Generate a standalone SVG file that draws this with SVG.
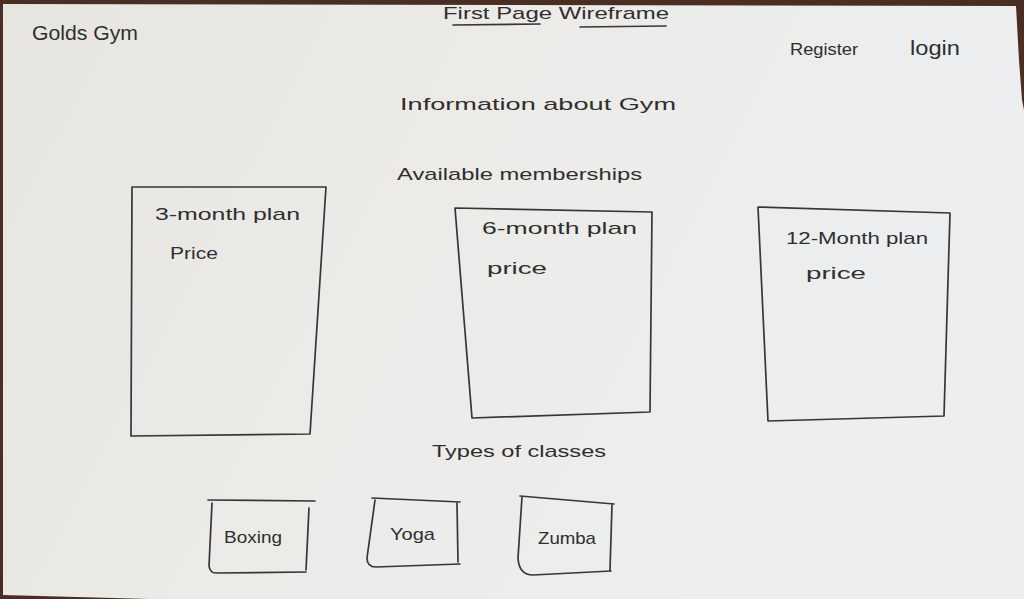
<svg xmlns="http://www.w3.org/2000/svg" width="1024" height="599" viewBox="0 0 1024 599">
  <style>
    .ink { fill: none; stroke: #363636; stroke-width: 1.7; stroke-linecap: round; stroke-linejoin: round; }
    .lbl { font-family: "Liberation Sans", "DejaVu Sans", sans-serif; fill: #2f2f2f; font-size: 17px; }
    .big { font-size: 20px; }
  </style>
  <defs>
    <linearGradient id="paper" x1="0" y1="0" x2="1" y2="0.3">
      <stop offset="0" stop-color="#e7e5e0"/>
      <stop offset="0.5" stop-color="#ecebe8"/>
      <stop offset="1" stop-color="#eceef0"/>
    </linearGradient>
  </defs>

  <!-- desk behind the sheet -->
  <rect x="0" y="0" width="1024" height="599" fill="#4a2e24"/>
  <!-- sheet of paper -->
  <polygon points="3,4 1016,6 1019,60 1022,100 1024,110 1024,599 150,599 3,595" fill="url(#paper)"/>

  <!-- page header -->
  <g id="logo">
    <text class="lbl big" x="32" y="40" textLength="106" lengthAdjust="spacingAndGlyphs">Golds Gym</text>
  </g>
  <g id="title">
    <text class="lbl" x="443" y="19" textLength="226" lengthAdjust="spacingAndGlyphs">First  Page  Wireframe</text>
    <path class="ink" d="M453,25 L540,24 M580,27 L666,26"/>
  </g>
  <g id="register">
    <text class="lbl" x="790" y="55" textLength="68" lengthAdjust="spacingAndGlyphs">Register</text>
  </g>
  <g id="login">
    <text class="lbl big" x="910" y="55" textLength="50" lengthAdjust="spacingAndGlyphs">login</text>
  </g>

  <!-- intro lines -->
  <g id="info">
    <text class="lbl" x="400" y="110" textLength="276" lengthAdjust="spacingAndGlyphs">Information   about   Gym</text>
  </g>
  <g id="memberships">
    <text class="lbl" x="397" y="180" textLength="245" lengthAdjust="spacingAndGlyphs">Available   memberships</text>
  </g>

  <!-- membership plan cards -->
  <g id="plan-3">
    <path class="ink" d="M132,187 L326,187 L310,434 L131,436 Z"/>
    <text class="lbl" x="155" y="220" textLength="145" lengthAdjust="spacingAndGlyphs">3-month  plan</text>
    <text class="lbl" x="170" y="259" textLength="48" lengthAdjust="spacingAndGlyphs">Price</text>
  </g>
  <g id="plan-6">
    <path class="ink" d="M455,208 L652,212 L650,412 L472,418 Z"/>
    <text class="lbl" x="482" y="234" textLength="155" lengthAdjust="spacingAndGlyphs">6-month  plan</text>
    <text class="lbl" x="487" y="274" textLength="60" lengthAdjust="spacingAndGlyphs">price</text>
  </g>
  <g id="plan-12">
    <path class="ink" d="M758,207 L950,213 L944,416 L768,421 Z"/>
    <text class="lbl" x="786" y="244" textLength="142" lengthAdjust="spacingAndGlyphs">12-Month  plan</text>
    <text class="lbl" x="806" y="279" textLength="60" lengthAdjust="spacingAndGlyphs">price</text>
  </g>

  <!-- class section -->
  <g id="classes">
    <text class="lbl" x="432" y="457" textLength="174" lengthAdjust="spacingAndGlyphs">Types  of  classes</text>
  </g>
  <g id="boxing">
    <path class="ink" d="M208,500 L315,501 M212,503 L209,566 Q210,573 216,573 L306,572 M309,508 L306,570"/>
    <text class="lbl" x="224" y="543" textLength="58" lengthAdjust="spacingAndGlyphs">Boxing</text>
  </g>
  <g id="yoga">
    <path class="ink" d="M372,498 L460,502 M375,500 L367,558 Q367,567 376,567 L460,564 M457,503 L458,562"/>
    <text class="lbl" x="390" y="540" textLength="45" lengthAdjust="spacingAndGlyphs">Yoga</text>
  </g>
  <g id="zumba">
    <path class="ink" d="M520,496 L614,504 M522,497 L518,558 Q519,575 533,575 L611,571 M612,505 L610,570"/>
    <text class="lbl" x="538" y="544" textLength="58" lengthAdjust="spacingAndGlyphs">Zumba</text>
  </g>
</svg>
